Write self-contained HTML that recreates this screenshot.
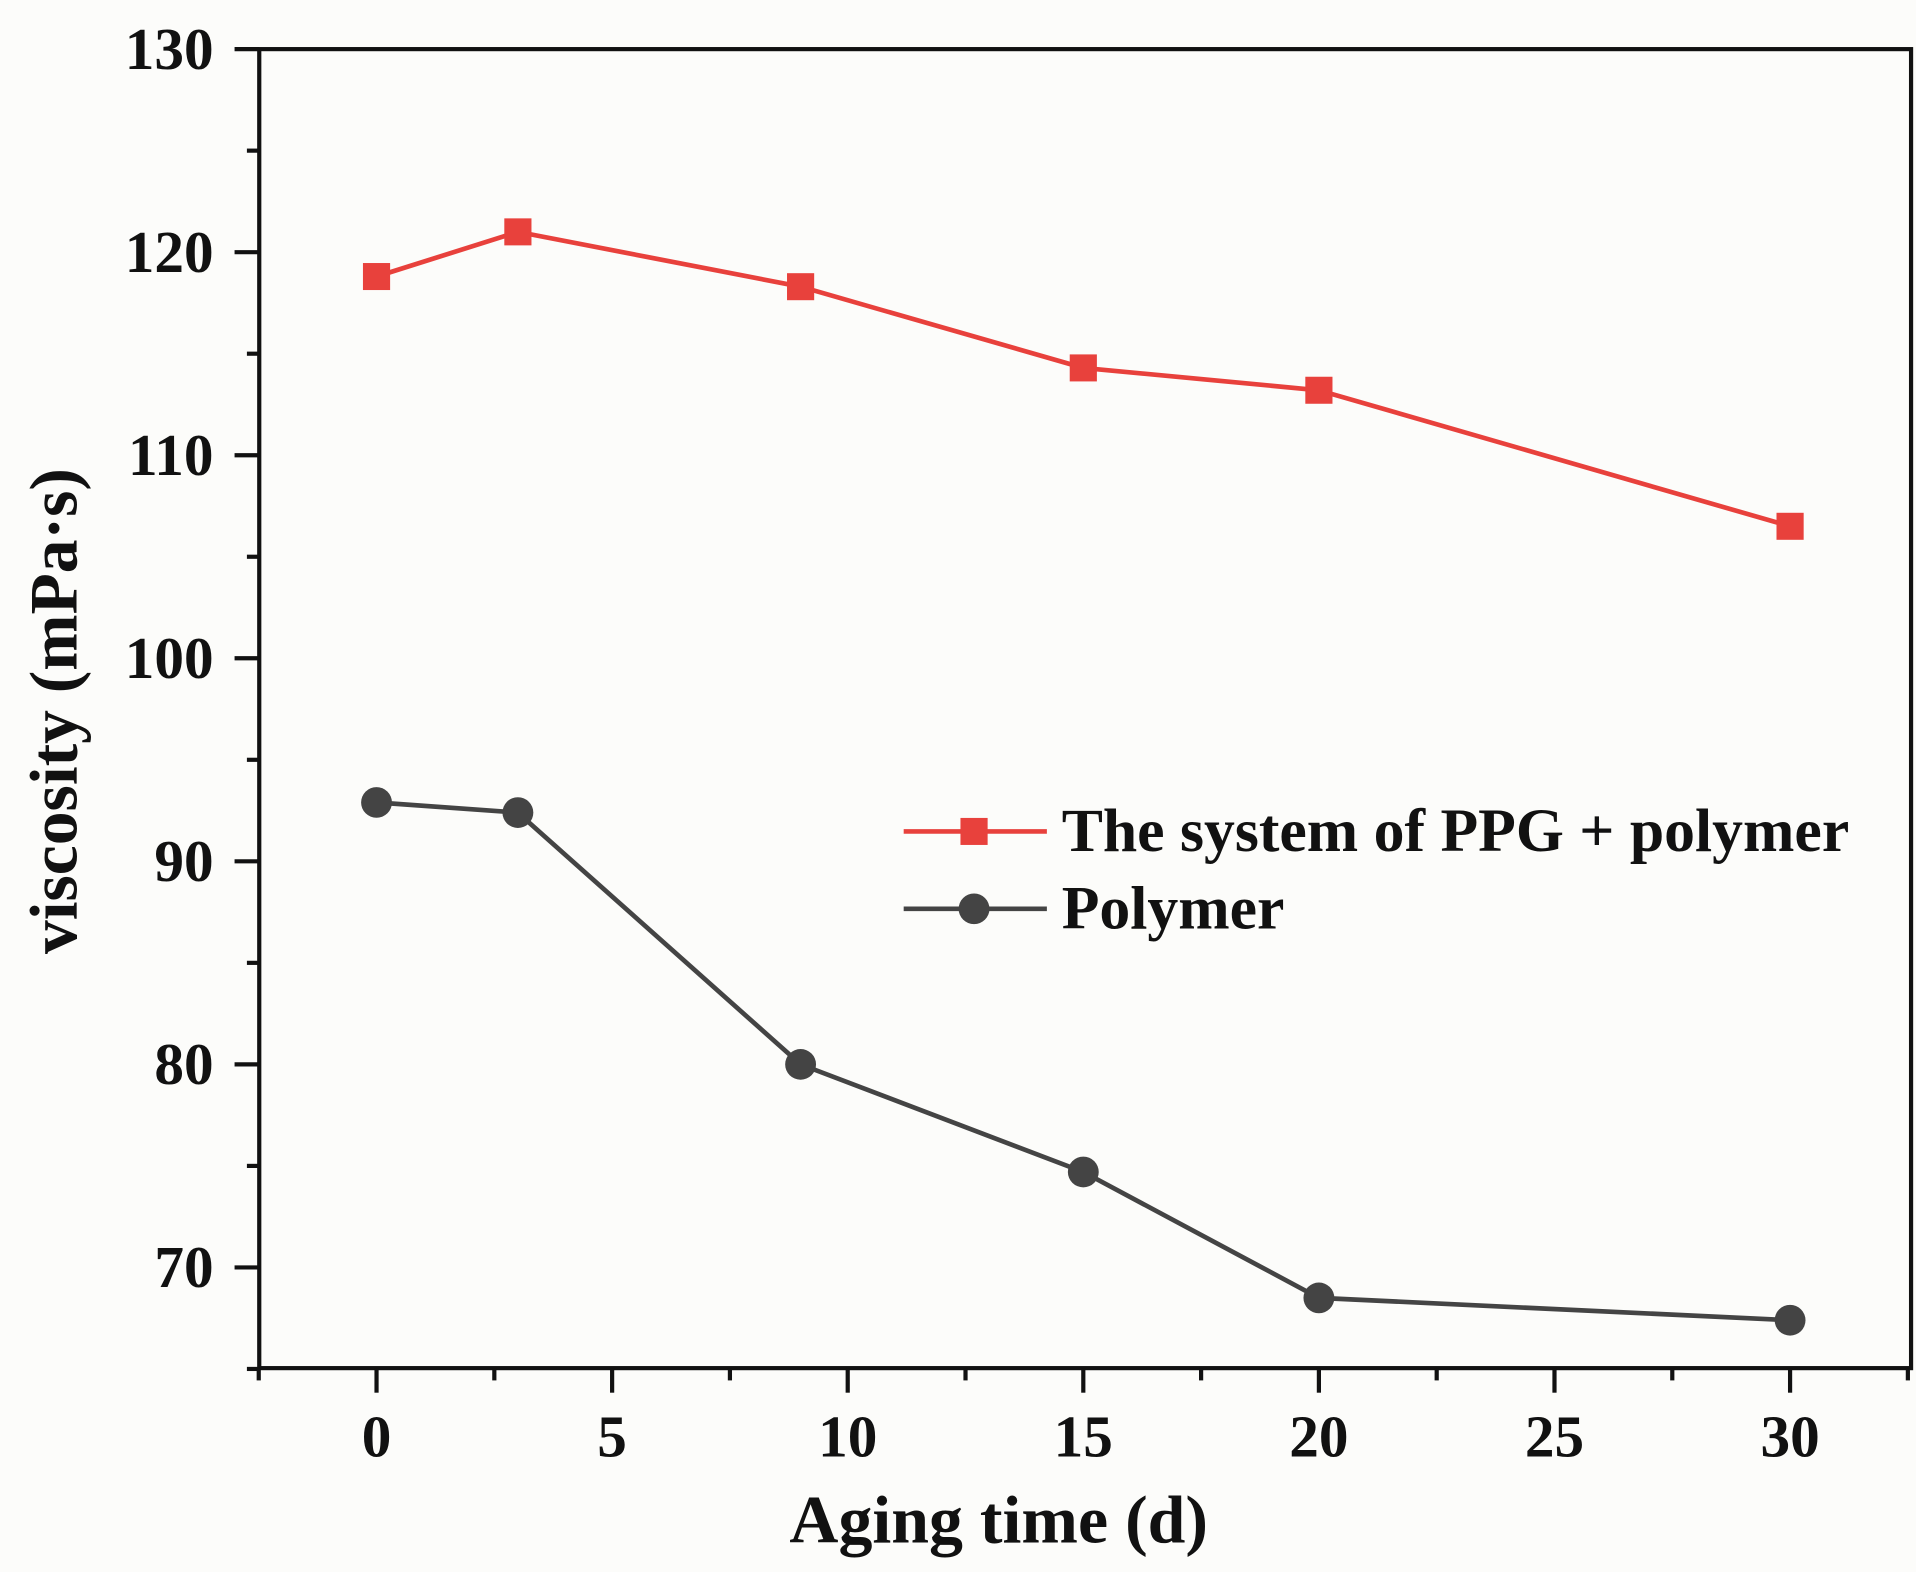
<!DOCTYPE html>
<html><head><meta charset="utf-8"><style>
html,body{margin:0;padding:0;background:#fcfcfa;}
svg{display:block;}
text{font-family:"Liberation Serif",serif;font-weight:bold;fill:#111;}
</style></head><body>
<svg id="chart" width="1916" height="1572" viewBox="0 0 1552 1280" preserveAspectRatio="none" xmlns="http://www.w3.org/2000/svg">
<rect width="1552" height="1280" fill="#fcfcfa"/>
<g id="g"></g>
</svg>
<script>
const days = [0, 3, 9, 15, 20, 30];
const ppgValues = [118.8, 121.0, 118.3, 114.3, 113.2, 106.5];
const polymerValues = [92.9, 92.4, 80.0, 74.7, 68.5, 67.4];
const xTicks = [0, 5, 10, 15, 20, 25, 30];
const yTicks = [70, 80, 90, 100, 110, 120, 130];
const seriesNames = ["The system of PPG + polymer", "Polymer"];

const L=210,R=1548,T=40,B=1114;
const xs=v=>305+(v-0)*(1450-305)/30;
const ys=v=>40+(130-v)*(1032-40)/60;
const g=document.getElementById('g');
const NS='http://www.w3.org/2000/svg';
function mk(tag,attrs,parent){const e=document.createElementNS(NS,tag);for(const k in attrs)e.setAttribute(k,attrs[k]);(parent||g).appendChild(e);return e;}

const frame=mk('rect',{x:L,y:T,width:R-L,height:B-T,fill:'none',stroke:'#111','stroke-width':3.4});



for(let v=65;v<=130;v+=5){
  const major=v%10===0;
  const t=mk('line',{x1:L-(major?20:10),x2:L,y1:ys(v),y2:ys(v),stroke:'#111','stroke-width':3.4});
  
  
}
yTicks.forEach(v=>{
  const t=mk('text',{x:L-37,y:ys(v)+16,'text-anchor':'end','font-size':48});
  t.textContent=v;
  
  
});
for(let v=-2.5;v<=32.5;v+=2.5){
  const major=Math.abs(v%5)<1e-9;
  const t=mk('line',{x1:xs(v),x2:xs(v),y1:B,y2:B+(major?20:10),stroke:'#111','stroke-width':3.4});
  
  
}
xTicks.forEach(v=>{
  const t=mk('text',{x:xs(v),y:1186,'text-anchor':'middle','font-size':48});
  t.textContent=v;
  
  
});
const xt=mk('text',{x:809,y:1256,'text-anchor':'middle','font-size':55});
xt.textContent='Aging time (d)';


const yt=mk('text',{x:0,y:0,'text-anchor':'middle','font-size':55,transform:'translate(62,579) rotate(-90)'});
yt.textContent='viscosity (mPa·s)';



const ppgLine=mk('polyline',{points:days.map((d,i)=>xs(d)+','+ys(ppgValues[i])).join(' '),fill:'none',stroke:'#e8413c','stroke-width':3.8});


days.forEach((d,i)=>{
  const m=mk('rect',{x:xs(d)-11,y:ys(ppgValues[i])-11,width:22,height:22,fill:'#e8413c'});
  
  
});
const polyLine=mk('polyline',{points:days.map((d,i)=>xs(d)+','+ys(polymerValues[i])).join(' '),fill:'none',stroke:'#444','stroke-width':3.8});


days.forEach((d,i)=>{
  const m=mk('circle',{cx:xs(d),cy:ys(polymerValues[i]),r:12.5,fill:'#444'});
  
  
});

const l1=mk('line',{x1:732,x2:848,y1:677,y2:677,stroke:'#e8413c','stroke-width':3.8});


const lm1=mk('rect',{x:778,y:666,width:22,height:22,fill:'#e8413c'});


const lt1=mk('text',{x:860,y:693,'font-size':50});
lt1.textContent=seriesNames[0];


const l2=mk('line',{x1:732,x2:848,y1:740,y2:740,stroke:'#444','stroke-width':3.8});


const lm2=mk('circle',{cx:789,cy:740,r:12.5,fill:'#444'});


const lt2=mk('text',{x:860,y:756,'font-size':50});
lt2.textContent=seriesNames[1];


</script>
</body></html>
